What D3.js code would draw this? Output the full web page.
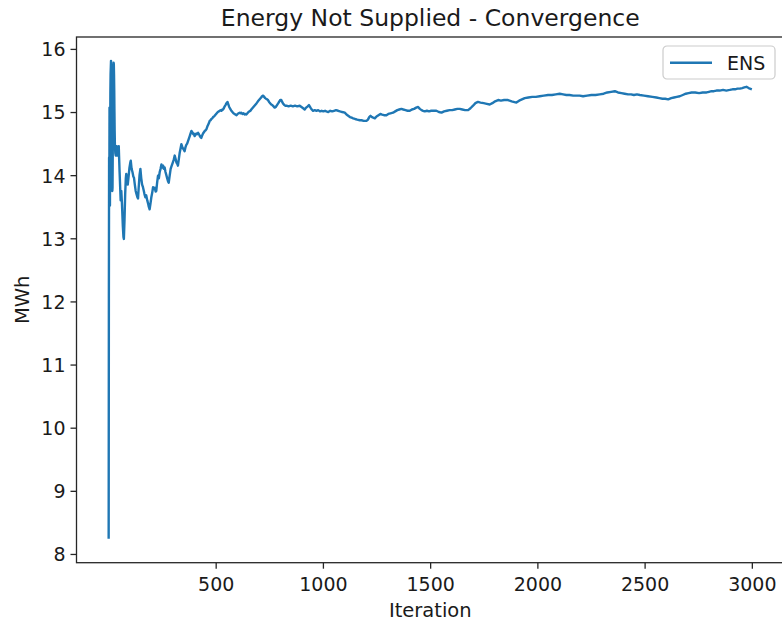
<!DOCTYPE html>
<html>
<head>
<meta charset="utf-8">
<script src="https://cdn.jsdelivr.net/npm/d3@7"></script>
<style>
  html, body { margin: 0; padding: 0; background: #fff; }
  svg { display: block; font-family: "DejaVu Sans", sans-serif; }
</style>
</head>
<body>
<div id="chart"></div>
<script>
// Running mean of Energy Not Supplied over Monte Carlo iterations
const iterations = [1,2,3,4,5,6,7,8,9,10,12,13,14,15,16,17,18,19,20,21,22,23,24,25,26,27,28,29,30,32,34,36,38,
  41,45,48,52,57,60,63,67,70,72,75,78,81,83,87,90,94,98,102,104,108,112,116,119,123,127,131,135,138,141,145,149,
  153,157,161,165,168,172,176,181,185,188,192,196,200,204,208,212,216,220,223,227,231,235,239,243,247,251,255,258,
  262,266,270,274,278,281,285,290,295,300,305,309,313,317,321,324,328,332,336,340,344,348,352,355,359,363,367,371,
  375,379,383,387,391,395,398,402,406,410,414,418,422,426,430,433,437,441,445,449,453,457,461,465,469,472,476,480,
  484,488,492,495,500,505,510,515,519,523,527,531,534,538,542,546,550,555,559,563,568,573,578,583,588,592,597,602,
  607,612,616,620,625,630,635,639,643,648,653,657,662,666,671,676,681,686,691,697,702,707,712,716,721,726,731,735,
  740,744,749,754,759,764,770,775,780,786,792,797,801,806,810,815,820,825,830,840,850,860,870,880,892,900,908,915,
  922,929,935,942,948,954,962,970,978,986,994,1002,1010,1016,1025,1034,1043,1052,1061,1071,1080,1090,1102,1110,1118,
  1126,1134,1141,1150,1160,1172,1180,1190,1203,1210,1216,1222,1229,1235,1242,1250,1259,1268,1276,1285,1296,1305,1315,
  1327,1337,1347,1356,1366,1375,1385,1395,1405,1415,1425,1435,1444,1452,1460,1467,1475,1485,1495,1505,1517,1529,1541,
  1553,1565,1578,1591,1603,1615,1627,1638,1650,1663,1677,1688,1700,1711,1723,1735,1750,1764,1778,1790,1803,1817,1830,
  1845,1863,1880,1902,1915,1928,1941,1958,1976,1993,2011,2030,2050,2068,2086,2104,2120,2135,2150,2167,2182,2197,2213,
  2232,2252,2271,2291,2309,2326,2344,2361,2376,2392,2407,2423,2437,2450,2464,2478,2497,2516,2536,2555,2569,2583,2596,
  2610,2624,2637,2650,2664,2678,2692,2705,2719,2736,2754,2771,2789,2800,2812,2823,2835,2850,2866,2881,2897,2910,2922,
  2933,2944,2955,2965,2975,2985,3000];

const ensValues = [8.24,12.05,14.28,13.55,15.07,14.3,13.52,14.6,15.3,15.6,15.81,15.7,15.2,14.7,14.2,13.9,13.75,13.8,
  14.3,14.9,15.35,15.65,15.78,15.76,15.6,15.35,15.0,14.7,14.5,14.35,14.31,14.4,14.46,
  14.31,14.40,14.46,14.05,13.6,13.75,13.55,13.2,13.02,12.99,13.3,13.7,13.95,14.02,13.9,13.85,13.98,14.12,14.2,14.23,
  14.1,14.05,13.98,13.96,13.85,13.75,13.7,13.65,13.63,13.8,14.0,14.10,13.95,13.85,13.81,13.75,13.7,13.65,13.68,13.60,
  13.55,13.5,13.46,13.55,13.65,13.72,13.81,13.78,13.8,13.74,13.75,13.88,13.99,13.95,14.05,14.1,14.17,14.12,14.15,
  14.1,14.12,14.05,14.0,13.95,13.9,13.88,13.98,14.10,14.15,14.2,14.25,14.31,14.26,14.2,14.18,14.15,14.25,14.35,14.42,
  14.49,14.45,14.42,14.40,14.38,14.44,14.48,14.5,14.54,14.58,14.62,14.66,14.70,14.68,14.65,14.66,14.62,14.64,14.66,
  14.65,14.67,14.65,14.62,14.6,14.59,14.63,14.66,14.68,14.70,14.71,14.73,14.77,14.80,14.83,14.86,14.87,14.89,14.9,
  14.92,14.93,14.94,14.96,14.98,15.0,15.01,15.02,15.03,15.02,15.04,15.04,15.06,15.09,15.11,15.14,15.16,15.12,15.08,
  15.05,15.02,15.0,14.98,14.97,14.96,14.95,14.97,14.98,14.99,14.98,14.99,14.97,14.98,14.96,14.97,14.96,14.98,15.0,
  15.01,15.02,15.04,15.06,15.08,15.10,15.12,15.14,15.17,15.19,15.21,15.23,15.25,15.26,15.24,15.22,15.21,15.2,15.19,
  15.16,15.14,15.12,15.11,15.09,15.07,15.08,15.11,15.14,15.17,15.19,15.19,15.16,15.13,15.11,15.1,15.10,15.09,15.10,
  15.09,15.10,15.09,15.10,15.08,15.06,15.04,15.07,15.09,15.11,15.07,15.04,15.02,15.03,15.02,15.03,15.01,15.02,15.01,
  15.02,15.01,15.0,15.02,15.01,15.02,15.03,15.02,15.01,15.0,14.99,14.96,14.94,14.92,14.91,14.90,14.89,14.88,14.87,
  14.87,14.86,14.86,14.88,14.92,14.94,14.92,14.91,14.90,14.93,14.95,14.97,14.96,14.95,14.95,14.97,14.98,14.99,15.01,
  15.03,15.04,15.05,15.04,15.03,15.02,15.02,15.04,15.05,15.07,15.08,15.05,15.03,15.02,15.01,15.02,15.01,15.02,15.02,
  15.02,15.0,14.99,15.01,15.02,15.03,15.03,15.04,15.05,15.05,15.04,15.03,15.03,15.06,15.10,15.14,15.16,15.15,15.14,
  15.13,15.12,15.14,15.17,15.19,15.18,15.19,15.19,15.17,15.15,15.18,15.20,15.22,15.23,15.24,15.24,15.25,15.26,15.27,
  15.27,15.28,15.29,15.28,15.27,15.27,15.26,15.26,15.26,15.25,15.26,15.27,15.27,15.28,15.29,15.31,15.32,15.33,15.31,
  15.30,15.29,15.28,15.28,15.27,15.28,15.27,15.26,15.25,15.24,15.23,15.22,15.21,15.21,15.20,15.22,15.23,15.24,15.25,
  15.27,15.29,15.30,15.31,15.31,15.30,15.31,15.31,15.32,15.33,15.33,15.34,15.34,15.35,15.34,15.35,15.36,15.36,15.37,
  15.37,15.38,15.39,15.40,15.38,15.36];

const yTicks = [8, 9, 10, 11, 12, 13, 14, 15, 16];
const xTicks = [500, 1000, 1500, 2000, 2500, 3000];
const seriesName = "ENS";
const titleText = "Energy Not Supplied - Convergence";
const xLabel = "Iteration";
const yLabel = "MWh";

const W = 782, H = 627;
const plot = { left: 76.5, right: 784, top: 37, bottom: 562.7 };
const lineColor = "#1f77b4";
const axisColor = "#262626";
const tickFont = "19px", labelFont = "19.5px", titleFont = "23.5px";

const svg = d3.select("#chart").append("svg")
  .attr("width", W).attr("height", H).attr("viewBox", `0 0 ${W} ${H}`);

// Axis ranges with matplotlib-style 5% padding around the data
const xMin = d3.min(iterations), xMax = d3.max(iterations);
const yMin = d3.min(ensValues), yMax = d3.max(ensValues);
const xPad = (xMax - xMin) * 0.05, yPad = (yMax - yMin) * 0.05;

const x = d3.scaleLinear().domain([xMin - xPad, xMax + xPad]).range([plot.left, plot.right]);
const y = d3.scaleLinear().domain([yMin - yPad, yMax + yPad]).range([plot.bottom, plot.top]);

// Series line
const points = iterations.map((it, i) => [it, ensValues[i]]);
svg.append("path")
  .datum(points)
  .attr("fill", "none")
  .attr("stroke", lineColor)
  .attr("stroke-width", 2.4)
  .attr("stroke-linejoin", "round")
  .attr("stroke-linecap", "butt")
  .attr("d", d3.line().x(d => x(d[0])).y(d => y(d[1])));

// Axes
const xAxis = svg.append("g")
  .attr("transform", `translate(0,${plot.bottom})`)
  .call(d3.axisBottom(x).tickValues(xTicks).tickSize(6).tickPadding(5).tickFormat(d3.format("d")));
const yAxis = svg.append("g")
  .attr("transform", `translate(${plot.left},0)`)
  .call(d3.axisLeft(y).tickValues(yTicks).tickSize(6).tickPadding(5).tickFormat(d3.format("d")));

[xAxis, yAxis].forEach(g => {
  g.select(".domain").remove();
  g.selectAll(".tick line").attr("stroke", axisColor).attr("stroke-width", 1.3);
  g.selectAll(".tick text").attr("fill", "#1a1a1a").style("font-size", tickFont)
    .style("font-family", "'DejaVu Sans', sans-serif");
});
xAxis.selectAll(".tick text").attr("dy", "0.92em");
yAxis.selectAll(".tick text").attr("dy", "0.36em");

// Frame (spines)
svg.append("rect")
  .attr("x", plot.left).attr("y", plot.top)
  .attr("width", plot.right - plot.left).attr("height", plot.bottom - plot.top)
  .attr("fill", "none").attr("stroke", axisColor).attr("stroke-width", 1.3);

// Title and axis labels
svg.append("text")
  .attr("x", (plot.left + plot.right) / 2).attr("y", 26)
  .attr("text-anchor", "middle").attr("fill", "#1a1a1a")
  .style("font-size", titleFont).text(titleText);

svg.append("text")
  .attr("x", (plot.left + plot.right) / 2).attr("y", 617)
  .attr("text-anchor", "middle").attr("fill", "#1a1a1a")
  .style("font-size", labelFont).text(xLabel);

svg.append("text")
  .attr("transform", `translate(29,${(plot.top + plot.bottom) / 2}) rotate(-90)`)
  .attr("text-anchor", "middle").attr("fill", "#1a1a1a")
  .style("font-size", labelFont).text(yLabel);

// Legend
const legend = svg.append("g").attr("transform", "translate(663,46)");
legend.append("rect")
  .attr("width", 112).attr("height", 33).attr("rx", 4).attr("ry", 4)
  .attr("fill", "rgba(255,255,255,0.8)").attr("stroke", "#cccccc").attr("stroke-width", 1.2);
legend.append("line")
  .attr("x1", 7).attr("x2", 49).attr("y1", 16.7).attr("y2", 16.7)
  .attr("stroke", lineColor).attr("stroke-width", 2.4);
legend.append("text")
  .attr("x", 64).attr("y", 23.5).attr("fill", "#1a1a1a")
  .style("font-size", tickFont).text(seriesName);
</script>
</body>
</html>
